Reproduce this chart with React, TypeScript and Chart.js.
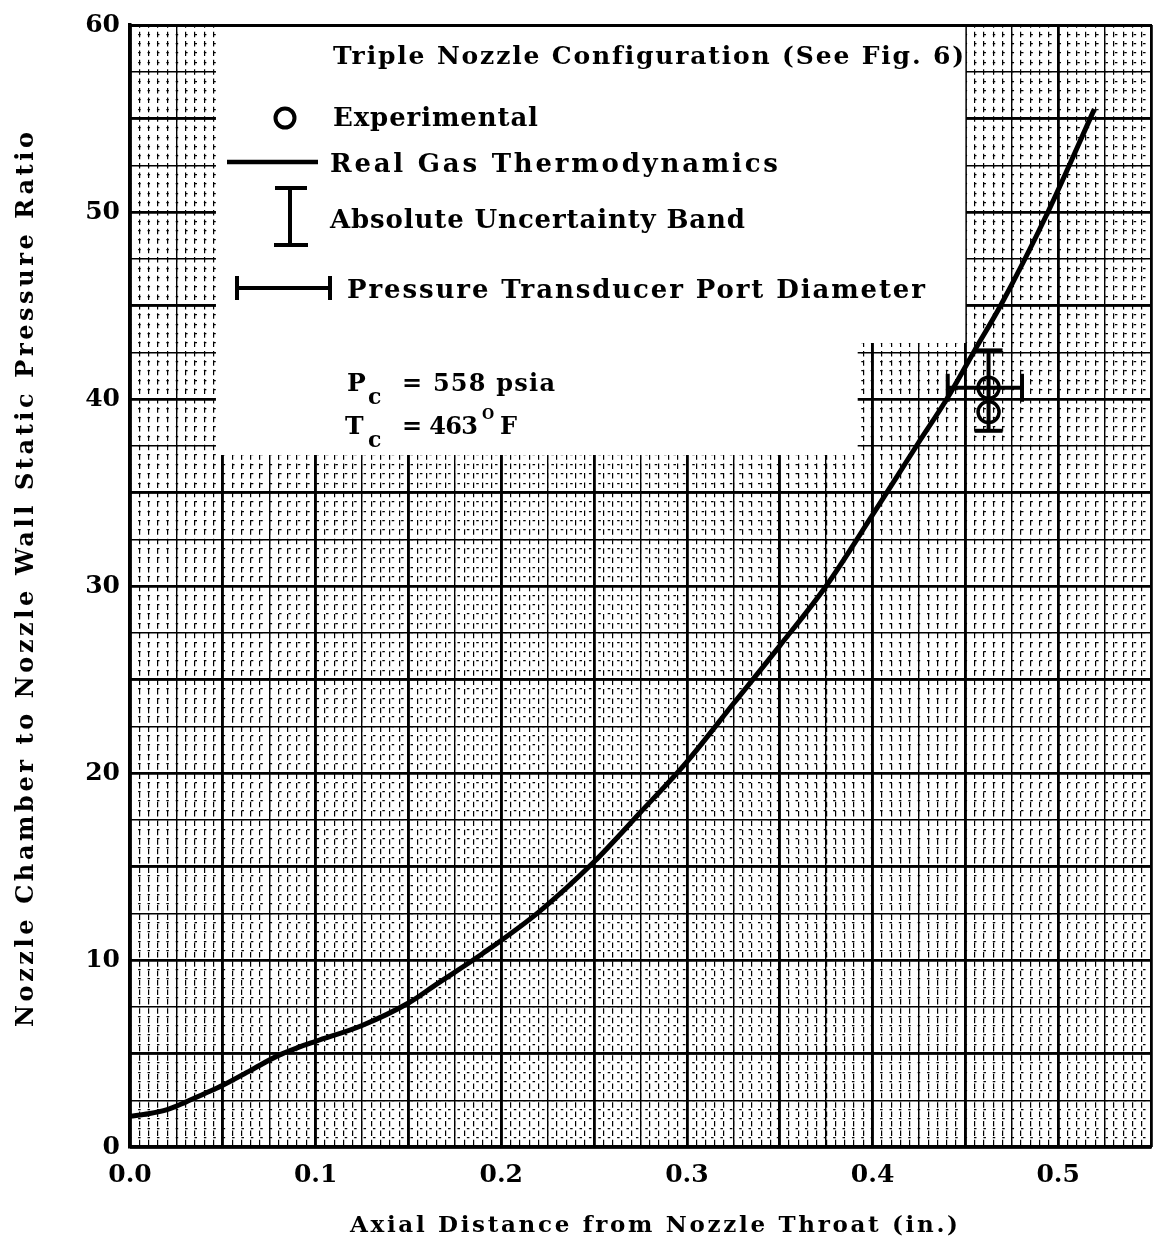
import React, { useEffect, useRef } from "react";
import { Chart, registerables } from "chart.js";

Chart.register(...registerables);

// Real-gas curve: axial distance from the throat (in.) and the chamber-to-wall pressure ratio
const curveDistance = [
  0, 0.01, 0.02, 0.03, 0.04, 0.05, 0.065, 0.08, 0.09, 0.1, 0.125, 0.15, 0.165, 0.19,
  0.22, 0.25, 0.275, 0.3, 0.325, 0.35, 0.375, 0.4, 0.425, 0.44, 0.455, 0.469, 0.4945, 0.5195,
];
const curveRatio = [
  1.65, 1.78, 2.0, 2.4, 2.85, 3.3, 4.1, 4.9, 5.3, 5.65, 6.5, 7.7, 8.7, 10.35,
  12.55, 15.25, 17.9, 20.6, 23.7, 26.8, 30.0, 33.8, 37.7, 40.0, 42.6, 45.0, 50.0, 55.5,
];

// Experimental taps
const experimentalDistance = [0.4625, 0.4625];
const experimentalRatio = [40.6, 39.3];

// Absolute uncertainty band (vertical) and transducer port diameter (horizontal)
const uncertaintyDistance = [0.4625, 0.4625];
const uncertaintyRatio = [38.3, 42.6];
const portDistance = [0.4405, 0.4805];
const portRatio = [40.6, 40.6];

// Axis ranges and tick steps
const X_MIN = 0;
const X_MAX = 0.55;
const Y_MIN = 0;
const Y_MAX = 60;
const X_LABEL_STEP = 0.1;
const Y_LABEL_STEP = 10;

// Texts
const xTitle = "Axial Distance from Nozzle Throat (in.)";
const yTitle = "Nozzle Chamber to Nozzle Wall Static Pressure Ratio";
const legendTitle = "Triple Nozzle Configuration (See Fig. 6)";
const legendLabels = [
  "Experimental",
  "Real Gas Thermodynamics",
  "Absolute Uncertainty Band",
  "Pressure Transducer Port Diameter",
];
const chamberPressure = "= 558 psia";
const chamberTemperature = "= 463";

// Layout
const W = 1169;
const H = 1239;
const Y_AXIS_WIDTH = 130;
const X_AXIS_HEIGHT = 92;
const PAD_TOP = 20;
const PAD_RIGHT = 6;
const SERIF = '"DejaVu Serif", "Liberation Serif", serif';

// Panel behind the key, in axis units (upper block and a shorter lower block)
const PANEL_LEFT = 0.0463;
const PANEL_RIGHT_UPPER = 0.45;
const PANEL_RIGHT_LOWER = 0.392;
const PANEL_STEP = 43.0;
const PANEL_BOTTOM = 37.0;

const plotW = W - PAD_RIGHT - Y_AXIS_WIDTH;
const plotH = H - X_AXIS_HEIGHT - PAD_TOP;
const xMinorPx = plotW / ((X_MAX - X_MIN) / 0.005);
const yMinorPx = plotH / ((Y_MAX - Y_MIN) / 0.5);

function gridAxis(position: string, min: number, max: number, step: number, width: number, dash?: number[], dashOffset?: number) {
  return {
    type: "linear",
    position,
    min,
    max,
    ticks: { display: false, stepSize: step, includeBounds: false, autoSkip: false },
    grid: { drawTicks: false, color: "#000", lineWidth: width },
    border: { display: false, dash: dash || [], dashOffset: dashOffset || 0 },
  };
}

// Draws a string so that it spans the given width, spreading the letters evenly
function drawFitted(ctx: any, s: string, x: number, y: number, width: number, size: number, weight = "bold") {
  ctx.font = `${weight} ${size}px ${SERIF}`;
  ctx.letterSpacing = "0px";
  const w = ctx.measureText(s).width;
  const sp = s.length > 1 ? (width - w) / (s.length - 1) : 0;
  ctx.letterSpacing = `${sp}px`;
  ctx.fillText(s, x, y);
  ctx.letterSpacing = "0px";
}

const titlesPlugin = {
  id: "spacedAxisTitles",
  afterDraw(chart: any) {
    const { ctx, chartArea } = chart;
    ctx.save();
    ctx.fillStyle = "#000";
    ctx.textAlign = "left";
    ctx.textBaseline = "alphabetic";
    // x title under the tick labels
    drawFitted(ctx, xTitle, chartArea.left + 220, chart.height - 7, 608, 23, "bold");
    // y title, reading upwards
    const cy = (chartArea.top + chartArea.bottom) / 2 - 6;
    ctx.translate(33, cy);
    ctx.rotate(-Math.PI / 2);
    drawFitted(ctx, yTitle, -447, 0, 895, 24, "bold");
    ctx.restore();
  },
};

const keyPlugin = {
  id: "configurationKey",
  beforeDatasetsDraw(chart: any) {
    const { ctx, chartArea, scales } = chart;
    const x = scales.x;
    const y = scales.y;
    const l = x.getPixelForValue(PANEL_LEFT);
    const r1 = x.getPixelForValue(PANEL_RIGHT_UPPER);
    const r2 = x.getPixelForValue(PANEL_RIGHT_LOWER);
    const t = chartArea.top + 2;
    const m = y.getPixelForValue(PANEL_STEP);
    const b = y.getPixelForValue(PANEL_BOTTOM);
    ctx.save();
    ctx.fillStyle = "#fff";
    ctx.beginPath();
    ctx.moveTo(l, t);
    ctx.lineTo(r1, t);
    ctx.lineTo(r1, m);
    ctx.lineTo(r2, m);
    ctx.lineTo(r2, b);
    ctx.lineTo(l, b);
    ctx.closePath();
    ctx.fill();
    ctx.restore();
  },
  afterDatasetsDraw(chart: any) {
    const { ctx, chartArea } = chart;
    const ox = chartArea.left;
    const oy = chartArea.top;
    const px = (v: number) => ox + v;
    const py = (v: number) => oy + v;
    ctx.save();
    ctx.fillStyle = "#000";
    ctx.strokeStyle = "#000";
    ctx.textAlign = "left";
    ctx.textBaseline = "alphabetic";
    ctx.lineCap = "butt";

    drawFitted(ctx, legendTitle, px(203), py(39), 629, 25);

    // circle symbol
    ctx.lineWidth = 4;
    ctx.beginPath();
    ctx.arc(px(155), py(93), 9.5, 0, Math.PI * 2);
    ctx.stroke();
    drawFitted(ctx, legendLabels[0], px(203), py(101), 205, 26);

    // line symbol
    ctx.lineWidth = 4.5;
    ctx.beginPath();
    ctx.moveTo(px(97), py(137));
    ctx.lineTo(px(188), py(137));
    ctx.stroke();
    drawFitted(ctx, legendLabels[1], px(200), py(147), 448, 26);

    // uncertainty I-bar
    ctx.lineWidth = 4;
    ctx.beginPath();
    ctx.moveTo(px(160), py(163));
    ctx.lineTo(px(160), py(220));
    ctx.moveTo(px(145), py(163));
    ctx.lineTo(px(177), py(163));
    ctx.moveTo(px(144), py(220));
    ctx.lineTo(px(178), py(220));
    ctx.stroke();
    drawFitted(ctx, legendLabels[2], px(200), py(203), 415, 26);

    // port diameter bar
    ctx.beginPath();
    ctx.moveTo(px(107), py(263));
    ctx.lineTo(px(200), py(263));
    ctx.moveTo(px(107), py(251));
    ctx.lineTo(px(107), py(275));
    ctx.moveTo(px(200), py(251));
    ctx.lineTo(px(200), py(275));
    ctx.stroke();
    drawFitted(ctx, legendLabels[3], px(217), py(273), 578, 26);

    // chamber conditions
    drawFitted(ctx, "P", px(217), py(366), 17, 25);
    drawFitted(ctx, "c", px(238), py(379), 15, 22);
    drawFitted(ctx, chamberPressure, px(272), py(366), 153, 24);
    drawFitted(ctx, "T", px(215), py(409), 18, 25);
    drawFitted(ctx, "c", px(238), py(422), 15, 22);
    drawFitted(ctx, chamberTemperature, px(272), py(409), 76, 24);
    drawFitted(ctx, "O", px(352), py(394), 13, 14);
    drawFitted(ctx, "F", px(370), py(409), 17, 24);

    ctx.restore();
  },
};

export default function App() {
  const ref = useRef<HTMLCanvasElement>(null);

  useEffect(() => {
    const canvas = ref.current;
    if (!canvas) return;

    const tickFont = { family: SERIF, size: 25, weight: "bold" as const };

    const chart = new Chart(canvas, {
      type: "line",
      data: {
        datasets: [
          {
            type: "line",
            label: legendLabels[1],
            data: curveDistance.map((x, i) => ({ x, y: curveRatio[i] })),
            borderColor: "#000",
            borderWidth: 5,
            pointRadius: 0,
            cubicInterpolationMode: "monotone",
            fill: false,
          },
          {
            type: "scatter",
            label: legendLabels[0],
            data: experimentalDistance.map((x, i) => ({ x, y: experimentalRatio[i] })),
            pointStyle: "circle",
            pointRadius: 10.5,
            pointBorderWidth: 3.5,
            borderColor: "#000",
            backgroundColor: "rgba(0,0,0,0)",
          },
          {
            type: "line",
            label: legendLabels[2],
            data: uncertaintyDistance.map((x, i) => ({ x, y: uncertaintyRatio[i] })),
            borderColor: "#000",
            borderWidth: 4,
            pointStyle: "line",
            pointRadius: 14,
            pointBorderWidth: 4,
            pointRotation: 0,
            fill: false,
          },
          {
            type: "line",
            label: legendLabels[3],
            data: portDistance.map((x, i) => ({ x, y: portRatio[i] })),
            borderColor: "#000",
            borderWidth: 4,
            pointStyle: "line",
            pointRadius: 14,
            pointBorderWidth: 4,
            pointRotation: 90,
            fill: false,
          },
        ],
      },
      options: {
        responsive: false,
        maintainAspectRatio: false,
        devicePixelRatio: 1,
        animation: false,
        layout: { padding: { left: 0, right: PAD_RIGHT, top: PAD_TOP, bottom: 0 } },
        plugins: { legend: { display: false }, tooltip: { enabled: false } },
        scales: {
          xGridMinor: gridAxis("bottom", X_MIN, X_MAX, 0.005, 1.2, [5.5, xMinorPx - 5.5], 2.75) as any,
          yGridMinor: gridAxis("left", Y_MIN, Y_MAX, 0.5, 1.2, [2.5, yMinorPx - 2.5], 1.25) as any,
          xGridMid: gridAxis("bottom", X_MIN, X_MAX, 0.025, 1.4) as any,
          yGridMid: gridAxis("left", Y_MIN, Y_MAX, 2.5, 1.4) as any,
          xGridMajor: gridAxis("bottom", X_MIN, X_MAX, 0.05, 2.8) as any,
          yGridMajor: gridAxis("left", Y_MIN, Y_MAX, 5, 2.8) as any,
          xTop: {
            type: "linear",
            position: "top",
            min: X_MIN,
            max: X_MAX,
            ticks: { display: false },
            grid: { display: false, drawTicks: false },
            border: { display: true, color: "#000", width: 3 },
          },
          yRight: {
            type: "linear",
            position: "right",
            min: Y_MIN,
            max: Y_MAX,
            ticks: { display: false },
            grid: { display: false, drawTicks: false },
            border: { display: true, color: "#000", width: 2 },
          },
          x: {
            type: "linear",
            position: "bottom",
            min: X_MIN,
            max: X_MAX,
            afterFit: (s: any) => {
              s.height = X_AXIS_HEIGHT;
            },
            ticks: {
              stepSize: X_LABEL_STEP,
              includeBounds: false,
              autoSkip: false,
              maxRotation: 0,
              padding: 13,
              color: "#000",
              font: tickFont,
              callback: (v: any) => Number(v).toFixed(1),
            },
            grid: { display: false, drawTicks: false },
            border: { display: true, color: "#000", width: 3.5 },
          },
          y: {
            type: "linear",
            position: "left",
            min: Y_MIN,
            max: Y_MAX,
            afterFit: (s: any) => {
              s.width = Y_AXIS_WIDTH;
            },
            ticks: {
              stepSize: Y_LABEL_STEP,
              includeBounds: false,
              autoSkip: false,
              padding: 10,
              color: "#000",
              font: tickFont,
              callback: (v: any) => String(Math.round(Number(v))),
            },
            grid: { display: false, drawTicks: false },
            border: { display: true, color: "#000", width: 3.5 },
          },
        } as any,
      },
      plugins: [keyPlugin, titlesPlugin],
    });

    return () => chart.destroy();
  }, []);

  return (
    <div style={{ position: "absolute", left: 0, top: 0, width: W, height: H, background: "#fff" }}>
      <canvas ref={ref} width={W} height={H} style={{ display: "block", width: W, height: H }} />
    </div>
  );
}
